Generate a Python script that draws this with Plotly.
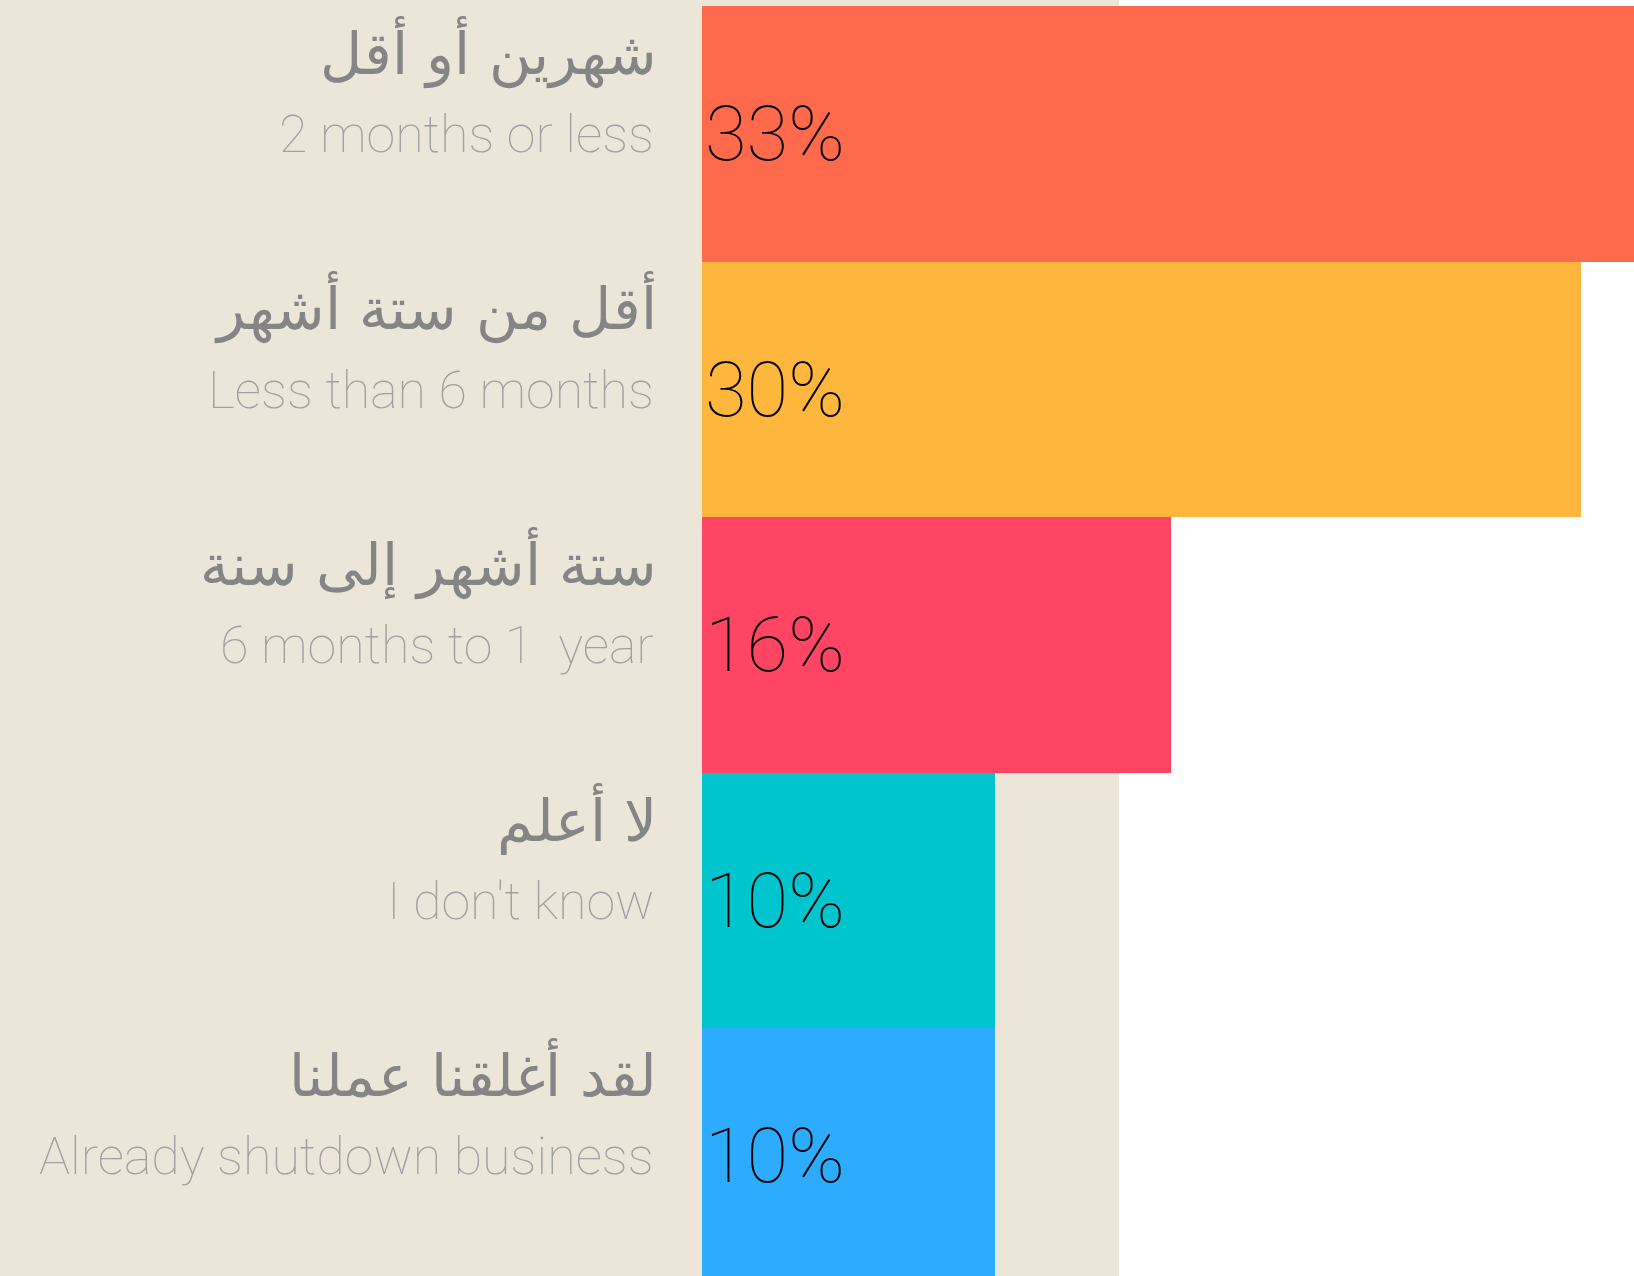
import plotly.graph_objects as go

# ── Data ──────────────────────────────────────────────────────────────────────
labels_ar = [
    "شهرين أو أقل",
    "أقل من ستة أشهر",
    "ستة أشهر إلى سنة",
    "لا أعلم",
    "لقد أغلقنا عملنا",
]
labels_en = [
    "2 months or less",
    "Less than 6 months",
    "6 months to 1  year",
    "I don't know",
    "Already shutdown business",
]
shares = [33, 30, 16, 10, 10]
bar_colors = ["#FF6A4C", "#FFB63C", "#FF4563", "#00C5CF", "#2DACFF"]

# ── Geometry (px) ─────────────────────────────────────────────────────────────
W, H = 1634, 1276
PLOT_L, PLOT_T = 702, 6
BEIGE_R = 1119
LABEL_R_AR = 659
LABEL_R_EN = 656
BAND = 255.5
PX_PER_PCT = 29.3

plot_w = W - PLOT_L
plot_h = H - PLOT_T
BEIGE = "#ECE6D9"

cats = list(range(len(shares)))

fig = go.Figure(go.Bar(
    x=shares, y=cats,
    orientation="h",
    marker=dict(color=bar_colors, line_width=0),
    texttemplate="%{x}%",
    textposition="inside",
    insidetextanchor="start",
    textfont=dict(family="Roboto, Inter, sans-serif", size=76, color="#000000", weight=100),
    constraintext="none",
    hoverinfo="skip",
))

# beige panel behind labels and the left part of the plot
fig.add_shape(
    type="rect", xref="paper", yref="paper", layer="below",
    x0=-PLOT_L / plot_w - 0.01, x1=(BEIGE_R - PLOT_L) / plot_w,
    y0=-0.01, y1=1 + PLOT_T / plot_h + 0.01,
    fillcolor=BEIGE, line_width=0,
)

for i, (ar, en) in enumerate(zip(labels_ar, labels_en)):
    fig.add_annotation(
        x=(LABEL_R_AR - PLOT_L) / plot_w, xref="paper", y=i, yref="y",
        text=ar, showarrow=False, xanchor="right", yanchor="middle",
        yshift=82,
        font=dict(family="DejaVu Sans, sans-serif", size=58,
                  color="#858585", weight=300),
    )
    fig.add_annotation(
        x=(LABEL_R_EN - PLOT_L) / plot_w, xref="paper", y=i, yref="y",
        text=en, showarrow=False, xanchor="right", yanchor="middle",
        yshift=-1,
        font=dict(family="Roboto, Inter, sans-serif", size=52,
                  color="#A0A0A0", weight=100),
    )

fig.update_layout(
    width=W, height=H,
    margin=dict(l=PLOT_L, r=0, t=PLOT_T, b=0, pad=0),
    paper_bgcolor="#FFFFFF",
    plot_bgcolor="rgba(0,0,0,0)",
    bargap=0,
    showlegend=False,
    xaxis=dict(range=[0, plot_w / PX_PER_PCT], visible=False, fixedrange=True),
    yaxis=dict(range=[-0.5 + plot_h / BAND, -0.5], visible=False, fixedrange=True),
)

fig.write_html(
    "out.html",
    config={"displayModeBar": False},
    post_script="document.body.style.margin='0';",
)
